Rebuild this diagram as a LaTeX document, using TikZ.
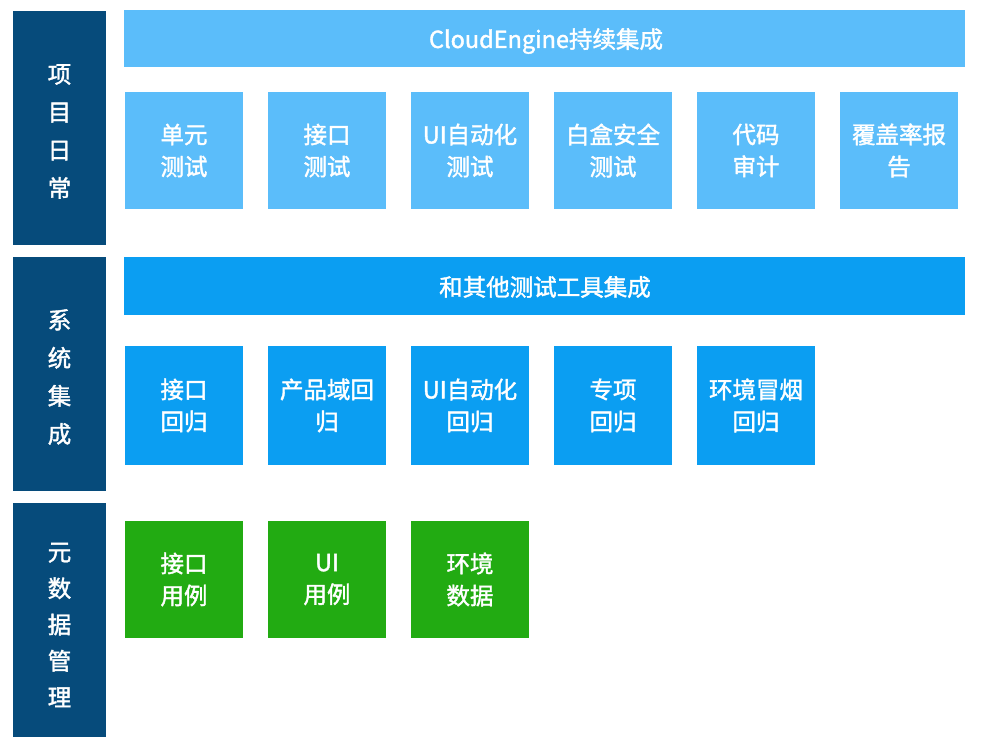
\documentclass[tikz,border=0pt]{standalone}
\usepackage{fontspec}
\setmainfont{Noto Sans CJK SC}[RawFeature={embolden=1.6}]
\definecolor{navy}{HTML}{064B7B}
\definecolor{lightb}{HTML}{5BBDFA}
\definecolor{brightb}{HTML}{0B9EF2}
\definecolor{greenb}{HTML}{22AB12}
\tikzset{
  side/.style={fill=navy, minimum width=93pt, minimum height=234pt, inner sep=0pt},
  sidetext/.style={text=white, inner sep=0pt, align=center, font=\fontsize{23.5}{38}\selectfont},
  bartext/.style={text=white, inner sep=0pt, font=\fontsize{23.5}{30}\selectfont},
  bar/.style={minimum width=841pt, inner sep=0pt},
  tile/.style={text=white, minimum width=118pt, minimum height=117pt, inner sep=0pt, align=center, font=\fontsize{23.5}{32}\selectfont},
}
\begin{document}
\begin{tikzpicture}[x=1pt,y=-1pt]
\useasboundingbox[fill=white] (0,0) rectangle (993,747);
% side labels
\node[side] (s1) at (59.5,128) {};
\node[side] (s2) at (59.5,374) {};
\node[side] (s3) at (59.5,620) {};
\node[sidetext] (s1t) at (59.5,131.5) {项\\目\\日\\常};
\node[sidetext] (s2t) at (59.5,377) {系\\统\\集\\成};
\node[sidetext, font=\fontsize{23.5}{36.3}\selectfont] (s3t) at (59.5,625) {元\\数\\据\\管\\理};
% bars
\node[bar, fill=lightb, minimum height=57pt] (b1) at (544.5,38.5) {};
\node[bar, fill=brightb, minimum height=58pt] (b2) at (544.5,286) {};
\node[bartext] (b1t) at (546,41) {CloudEngine持续集成};
\node[bartext] (b2t) at (545,287) {和其他测试工具集成};
% row 1
\node[tile, fill=lightb] (t11) at (184,150.5) {单元\\测试};
\node[tile, fill=lightb] (t12) at (327,150.5) {接口\\测试};
\node[tile, fill=lightb] (t13) at (470,150.5) {UI自动化\\测试};
\node[tile, fill=lightb] (t14) at (613,150.5) {白盒安全\\测试};
\node[tile, fill=lightb] (t15) at (756,150.5) {代码\\审计};
\node[tile, fill=lightb] (t16) at (899,150.5) {覆盖率报\\告};
% row 2
\node[tile, fill=brightb, minimum height=119pt] (t21) at (184,405.5) {接口\\回归};
\node[tile, fill=brightb, minimum height=119pt] (t22) at (327,405.5) {产品域回\\归};
\node[tile, fill=brightb, minimum height=119pt] (t23) at (470,405.5) {UI自动化\\回归};
\node[tile, fill=brightb, minimum height=119pt] (t24) at (613,405.5) {专项\\回归};
\node[tile, fill=brightb, minimum height=119pt] (t25) at (756,405.5) {环境冒烟\\回归};
% row 3
\node[tile, fill=greenb] (t31) at (184,579.5) {接口\\用例};
\node[tile, fill=greenb] (t32) at (327,579.5) {UI\\用例};
\node[tile, fill=greenb] (t33) at (470,579.5) {环境\\数据};
\end{tikzpicture}
\end{document}
